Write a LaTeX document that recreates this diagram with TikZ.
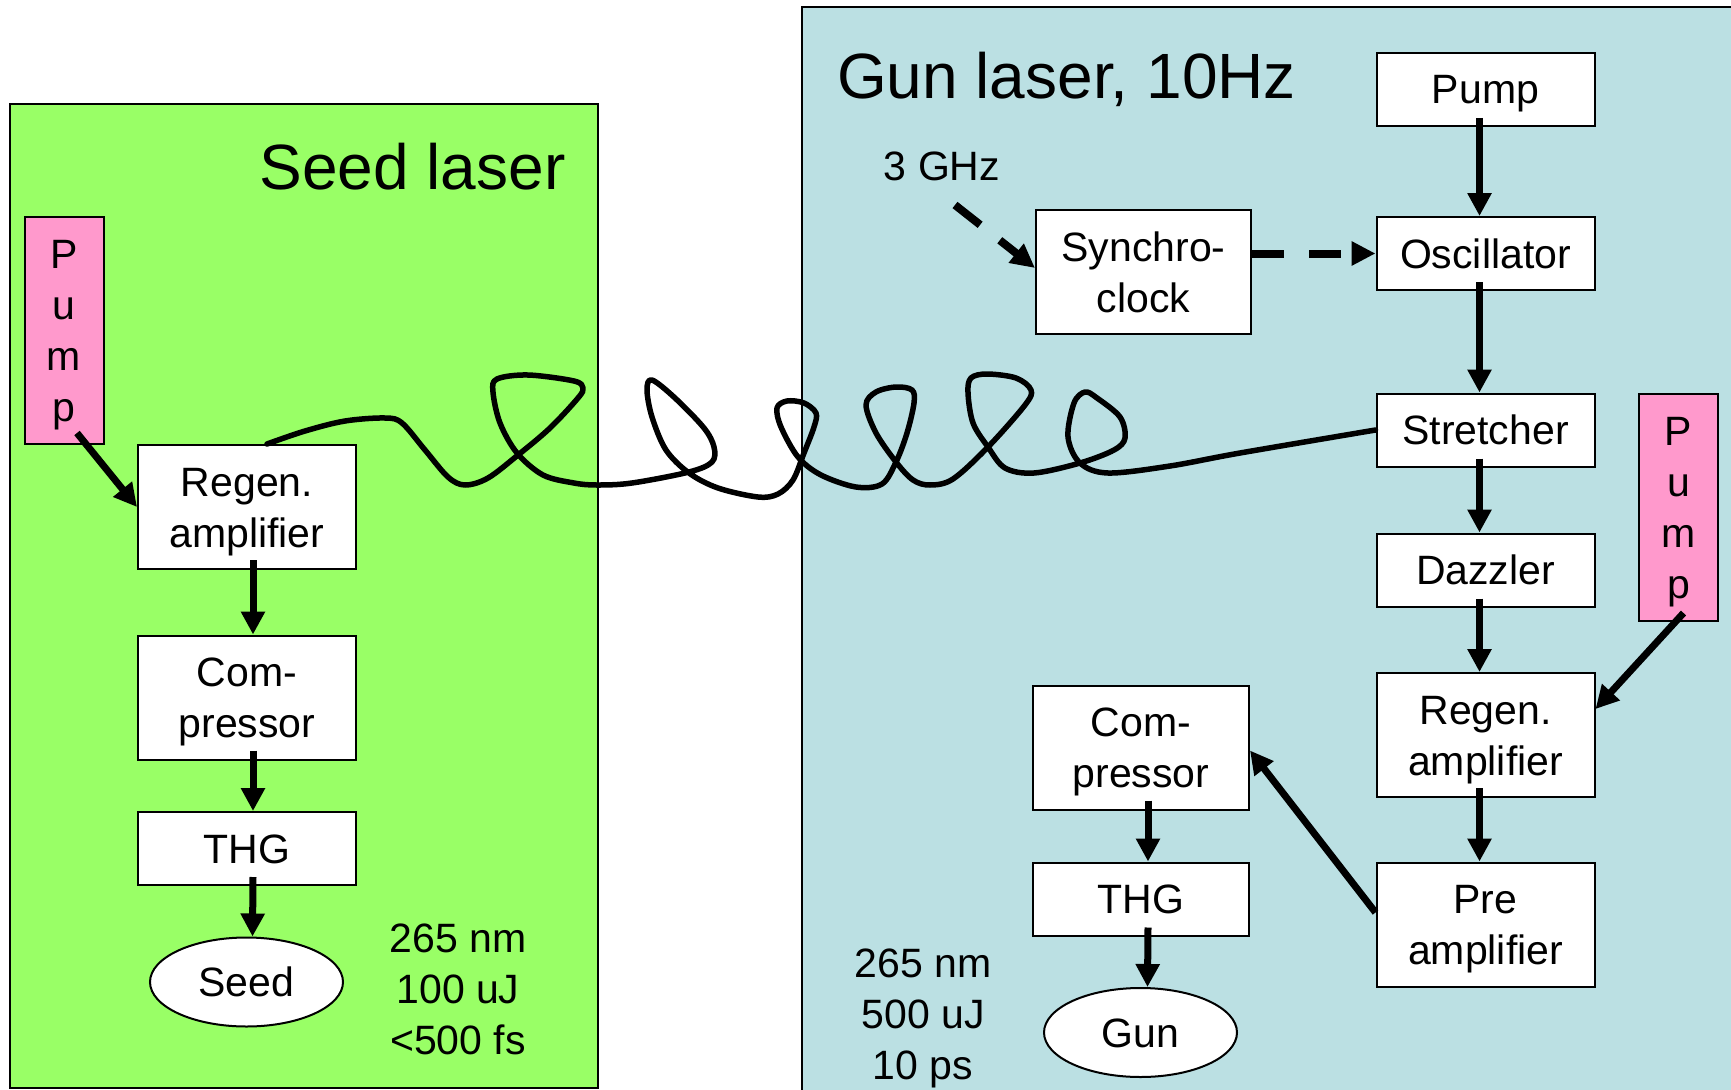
\documentclass[tikz,border=0pt]{standalone}
\usepackage{fontspec}
\setmainfont{Liberation Sans}
\usetikzlibrary{arrows.meta,shapes.geometric}
\definecolor{seedgreen}{HTML}{99FF66}
\definecolor{gunblue}{HTML}{BBE0E3}
\definecolor{pumppink}{HTML}{FF99CC}
\newcommand{\mybody}{\fontsize{41}{51}\selectfont}
\newcommand{\mytitle}{\fontsize{64}{77}\selectfont}
\newcommand{\boxtext}[1]{\rule{0pt}{38pt}#1\rule[-9pt]{0pt}{9pt}}
\begin{document}
\begin{tikzpicture}[x=1pt,y=-1pt,
  blk/.style={draw=black, line width=2pt, fill=white, font=\mybody, align=center, inner sep=2pt, minimum width=218pt},
  one/.style={blk, minimum height=73pt},
  two/.style={blk, minimum height=124pt},
  pumpbar/.style={draw=black, line width=2pt, fill=pumppink, font=\mybody, align=center, inner sep=2pt, minimum width=79pt, minimum height=227pt},
  outp/.style={ellipse, draw=black, line width=2pt, fill=white, font=\mybody, inner sep=0pt, minimum width=193pt, minimum height=89pt},
  spec/.style={font=\mybody, align=center, inner sep=0pt},
  title/.style={font=\mytitle, inner sep=0pt, anchor=base},
  arr/.style={line width=7pt, -{Triangle[length=23pt,width=23pt]}},
  darr/.style={line width=8pt, dash pattern=on 32pt off 25pt, -{Triangle[length=24pt,width=23pt]}},
  fiber/.style={line width=5.5pt, line join=round, line cap=round}
]
\clip (0,0) rectangle (1731,1089);
\fill[white] (0,0) rectangle (1731,1089);
% panels
\draw[fill=seedgreen, line width=1.5pt] (10,104) rectangle (598,1088);
\draw[fill=gunblue, line width=1.5pt] (802,7) rectangle (1760,1100);

% titles
\node[title] (seedtitle) at (412.5,189) {Seed laser};
\node[title] (guntitle) at (1066.5,99) {Gun laser, 10Hz};
\node[font=\mybody, inner sep=0pt, anchor=base] (ghz) at (942,180) {3 GHz};

% seed laser chain
\node[pumpbar] (spump) at (64,330.5) {\boxtext{P\\u\\m\\p}};
\node[two] (sregen) at (247,507) {\boxtext{Regen.\\amplifier}};
\node[two] (scomp) at (247,697.5) {\boxtext{Com-\\pressor}};
\node[one] (sthg) at (247,848.5) {\boxtext{THG}};
\node[outp] (seed) at (246.5,982) {\boxtext{Seed}};
\node[spec] (sspec) at (458,988.5) {\boxtext{265 nm\\100 uJ\\<500 fs}};

% gun laser chain
\node[one] (gpump) at (1485.5,89.5) {\boxtext{Pump}};
\node[one] (gosc) at (1485.5,253.5) {\boxtext{Oscillator}};
\node[two, minimum width=215pt] (sync) at (1143.5,272) {\boxtext{Synchro-\\clock}};
\node[one] (gstr) at (1485.5,430) {\boxtext{Stretcher}};
\node[one] (gdaz) at (1485.5,570) {\boxtext{Dazzler}};
\node[pumpbar] (gpink) at (1678.5,507.5) {\boxtext{P\\u\\m\\p}};
\node[two] (gregen) at (1485.5,735) {\boxtext{Regen.\\amplifier}};
\node[two] (gpre) at (1485.5,924.5) {\boxtext{Pre\\amplifier}};
\node[two, minimum width=216pt] (gcomp) at (1141,747.5) {\boxtext{Com-\\pressor}};
\node[one, minimum width=216pt] (gthg) at (1141,899) {\boxtext{THG}};
\node[outp] (gun) at (1140.5,1032.5) {\boxtext{Gun}};
\node[spec] (gspec) at (923,1013.5) {\boxtext{265 nm\\500 uJ\\10 ps}};

% fiber
\draw[fiber] plot[smooth, tension=0.55] coordinates {
 ([xshift=20pt]sregen.north)
 (305,431) (345,421) (385,418) (402,423) (425,450) (448,477) (465,485)
 (488,478) (518,455) (550,428) (578,398) (583,388) (574,381) (528,375)
 (497,379) (493,392) (500,423) (517,453) (543,475) (574,483) (597,485)
 (632,483) (689,472) (712,462) (714,447) (704,428) (675,398) (652,380)
 (647,390) (652,417) (666,450) (689,473) (718,488) (758,497) (778,494)
 (793,480) (804,453) (814,427) (816,413) (804,403) (787,401) (777,408)
 (781,427) (798,457) (821,475) (856,487) (882,484) (896,462) (907,433)
 (914,403) (912,390) (896,387) (876,392) (866,405) (876,433) (896,462)
 (913,480) (930,485) (953,479) (988,447) (1025,405) (1031,390) (1016,378)
 (987,374) (971,378) (968,393) (973,423) (988,447) (1005,468) (1034,473)
 (1080,463) (1114,450) (1125,438) (1120,417) (1097,398) (1085,392)
 (1074,403) (1068,437) (1080,463) (1108,473) (1170,466) (1240,453)
 (gstr.west)};

% seed arrows
\draw[arr] ([xshift=13pt,yshift=12pt]spump.south) -- (sregen.west);
\draw[arr] ([xshift=6pt,yshift=10pt]sregen.south) -- ([xshift=6pt]scomp.north);
\draw[arr] ([xshift=6pt,yshift=10pt]scomp.south) -- ([xshift=6pt]sthg.north);
\draw[arr] ([xshift=6pt,yshift=9pt]sthg.south) -- ([xshift=6pt]seed.north);

% gun arrows
\draw[arr] ([xshift=-6pt,yshift=9pt]gpump.south) -- ([xshift=-6pt]gosc.north);
\draw[arr] ([xshift=-6pt,yshift=9pt]gosc.south) -- ([xshift=-6pt]gstr.north);
\draw[arr] ([xshift=-6pt,yshift=9pt]gstr.south) -- ([xshift=-6pt]gdaz.north);
\draw[arr] ([xshift=-6pt,yshift=9pt]gdaz.south) -- ([xshift=-6pt]gregen.north);
\draw[arr] ([xshift=-6pt,yshift=10pt]gregen.south) -- ([xshift=-6pt]gpre.north);
\draw[arr] ([xshift=5pt,yshift=9pt]gpink.south) -- ([yshift=26pt]gregen.east);
\draw[arr] ([yshift=12pt]gpre.west) -- ([yshift=-3pt]gcomp.east);
\draw[arr] ([xshift=7pt,yshift=10pt]gcomp.south) -- ([xshift=7pt]gthg.north);
\draw[arr] ([xshift=7pt,yshift=9pt]gthg.south) -- ([xshift=7pt]gun.north);

% dashed clock arrows
\draw[darr] (sync.east |- gosc.west) -- (gosc.west);
\draw[darr] ([xshift=13pt,yshift=-25pt]ghz.base) -- ([yshift=4pt]sync.west);
\end{tikzpicture}
\end{document}
